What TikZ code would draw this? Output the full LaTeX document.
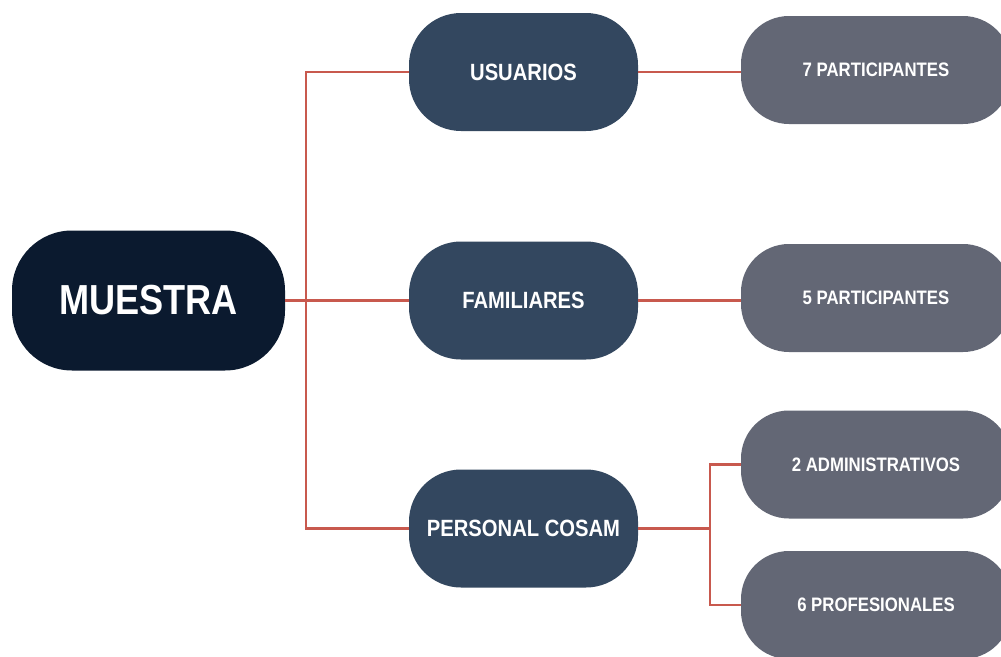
\documentclass[tikz,border=0pt]{standalone}
\usepackage{fontspec}
\newfontfamily\lab{Liberation Sans}[FakeStretch=0.86]
\usetikzlibrary{calc}
\definecolor{cRoot}{HTML}{0B1A2F}
\definecolor{cMid}{HTML}{33475F}
\definecolor{cLeaf}{HTML}{636775}
\definecolor{cLine}{HTML}{C8594E}
\tikzset{
  x=1pt,y=-1pt,
  box/.style={rectangle,text=white,inner sep=0pt,align=center,font=\lab\bfseries},
  rootbox/.style={box,fill=cRoot,minimum width=273pt,minimum height=140pt,rounded corners=60pt,font=\lab\bfseries\fontsize{42}{44}\selectfont},
  midbox/.style={box,fill=cMid,minimum width=229pt,minimum height=118pt,rounded corners=52pt,font=\lab\bfseries\fontsize{23.5}{26}\selectfont},
  leafbox/.style={box,fill=cLeaf,minimum width=270pt,minimum height=108pt,rounded corners=48pt,font=\lab\bfseries\fontsize{19.5}{22}\selectfont},
  link/.style={draw=cLine,line width=2.4pt}
}
\begin{document}
\begin{tikzpicture}
\clip (0,0) rectangle (1001,656);
\fill[white] (0,0) rectangle (1001,656);
\node[rootbox] (mu) at (148.5,300.5) {MUESTRA};
\node[midbox] (usu) at (523.5,72) {USUARIOS};
\node[midbox] (fam) at (523.5,300.5) {FAMILIARES};
\node[midbox] (per) at (523.5,528.5) {PERSONAL COSAM};
\node[leafbox] (p7) at (876,70) {7 PARTICIPANTES};
\node[leafbox] (p5) at (876,298) {5 PARTICIPANTES};
\node[leafbox] (adm) at (876,464.5) {2 ADMINISTRATIVOS};
\node[leafbox] (prof) at (876,605) {6 PROFESIONALES};
\coordinate (t) at (306,300.5);
\coordinate (j) at (710,528.5);
\draw[link] (mu.east) -- (fam.west);
\draw[link] (usu.west) -| (t) |- (per.west);
\draw[link] (usu.east) -- (usu.east -| p7.west);
\draw[link] (fam.east) -- (fam.east -| p5.west);
\draw[link] (per.east) -- (j);
\draw[link] (adm.west) -| (j) |- (prof.west);
\end{tikzpicture}
\end{document}
